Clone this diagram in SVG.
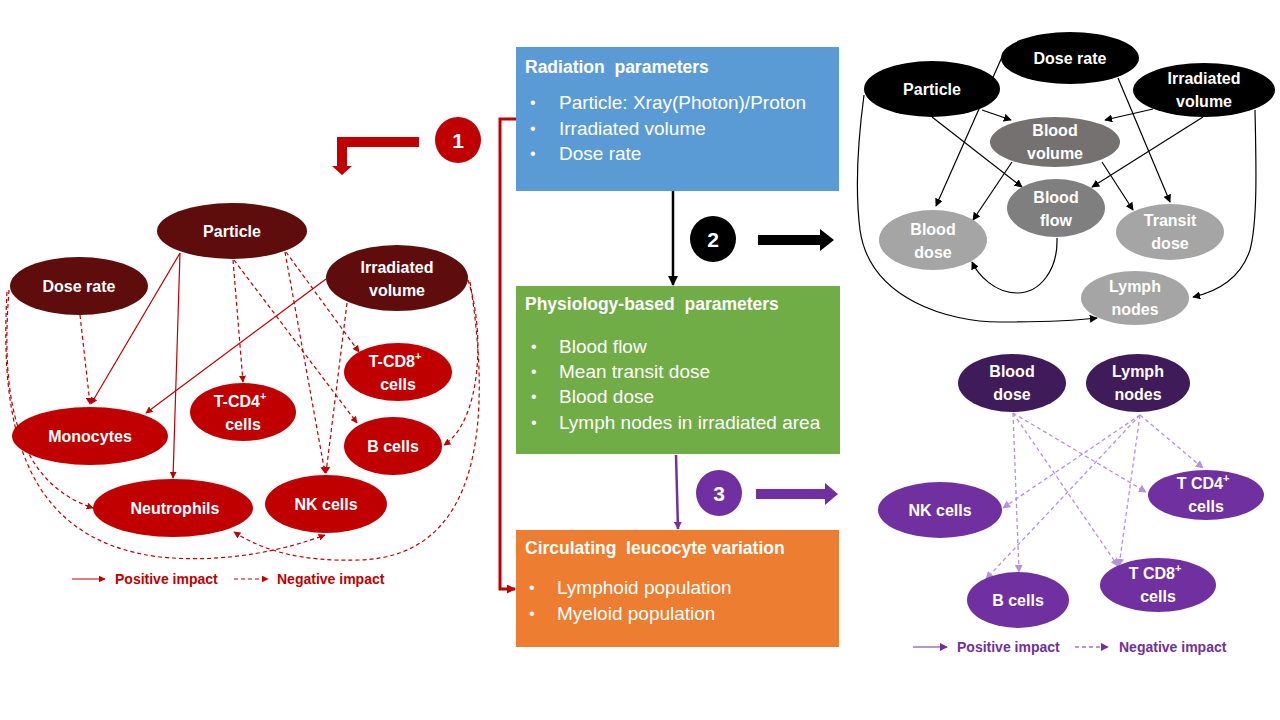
<svg xmlns="http://www.w3.org/2000/svg" width="1280" height="720" viewBox="0 0 1280 720">
<style>
text{font-family:"Liberation Sans",Arial,sans-serif}
.nt{fill:#fff;font-weight:bold;font-size:16px;text-anchor:middle}
.bt{fill:#fff;font-size:19px}
.bu{fill:#fff;font-size:16px}
.tt{fill:#fff;font-weight:bold;font-size:17.5px}
.dk{fill:#5E0C0C}.rd{fill:#C00000}
.bk{fill:#000}.gv{fill:#767171}.gf{fill:#7F7F7F}.gl{fill:#A5A5A5}
.pd{fill:#3F1B59}.pp{fill:#7030A0}
.er{fill:none;stroke:#C00000;stroke-width:1.2}
.ed{fill:none;stroke:#C00000;stroke-width:1.2;stroke-dasharray:4 3}
.eb{fill:none;stroke:#000;stroke-width:1.2}
.ep{fill:none;stroke:#B890DC;stroke-width:1.3;stroke-dasharray:4 3}
.lr{fill:#C00000;font-weight:bold;font-size:14px}
.lp{fill:#7030A0;font-weight:bold;font-size:14px}
.num{fill:#fff;font-weight:bold;font-size:21px;text-anchor:middle}
</style>
<defs>
<marker id="mr" viewBox="0 0 10 10" refX="9" refY="5" markerWidth="7" markerHeight="7" markerUnits="userSpaceOnUse" orient="auto"><path d="M0,0L10,5L0,10z" fill="#C00000"/></marker>
<marker id="mb" viewBox="0 0 10 10" refX="9" refY="5" markerWidth="8" markerHeight="8" markerUnits="userSpaceOnUse" orient="auto"><path d="M0,0L10,5L0,10z" fill="#000"/></marker>
<marker id="mp" viewBox="0 0 10 10" refX="9" refY="5" markerWidth="8" markerHeight="8" markerUnits="userSpaceOnUse" orient="auto"><path d="M0,0L10,5L0,10z" fill="#B890DC"/></marker>
<marker id="mpd" viewBox="0 0 10 10" refX="9" refY="5" markerWidth="8" markerHeight="8" markerUnits="userSpaceOnUse" orient="auto"><path d="M0,0L10,5L0,10z" fill="#7030A0"/></marker>
<marker id="mr2" viewBox="0 0 10 10" refX="9" refY="5" markerWidth="9" markerHeight="9" markerUnits="userSpaceOnUse" orient="auto"><path d="M0,0L10,5L0,10z" fill="#C00000"/></marker>
<marker id="mb2" viewBox="0 0 10 10" refX="9" refY="5" markerWidth="10" markerHeight="10" markerUnits="userSpaceOnUse" orient="auto"><path d="M0,0L10,5L0,10z" fill="#000"/></marker>
</defs>
<rect width="1280" height="720" fill="#fff"/>

<!-- Middle boxes -->
<g id="box-radiation">
<rect x="516" y="47" width="323" height="144" fill="#5B9BD5"/>
<text class="tt" x="525" y="73" xml:space="preserve">Radiation  parameters</text>
<text class="bu" x="530" y="108">•</text><text class="bt" x="559" y="109">Particle: Xray(Photon)/Proton</text>
<text class="bu" x="530" y="134">•</text><text class="bt" x="559" y="135">Irradiated volume</text>
<text class="bu" x="530" y="159">•</text><text class="bt" x="559" y="160">Dose rate</text>
</g>
<g id="box-physiology">
<rect x="516" y="286" width="324" height="168" fill="#70AD47"/>
<text class="tt" x="525" y="310" xml:space="preserve">Physiology-based  parameters</text>
<text class="bu" x="531" y="352">•</text><text class="bt" x="559" y="353">Blood flow</text>
<text class="bu" x="531" y="377">•</text><text class="bt" x="559" y="378">Mean transit dose</text>
<text class="bu" x="531" y="402">•</text><text class="bt" x="559" y="403">Blood dose</text>
<text class="bu" x="531" y="428">•</text><text class="bt" x="559" y="429">Lymph nodes in irradiated area</text>
</g>
<g id="box-leucocyte">
<rect x="516" y="530" width="323" height="117" fill="#ED7D31"/>
<text class="tt" x="525" y="554" xml:space="preserve">Circulating  leucocyte variation</text>
<text class="bu" x="529" y="593">•</text><text class="bt" x="557" y="594">Lymphoid population</text>
<text class="bu" x="529" y="619">•</text><text class="bt" x="557" y="620">Myeloid population</text>
</g>
<g id="step-1">
<circle cx="458" cy="140" r="23" fill="#C00000"/>
<text class="num" x="458" y="148">1</text>
<polygon points="419,137 337,137 337,166 332,166 342,175 352,166 347,166 347,147 419,147" fill="#C00000"/>
</g>
<g id="step-2">
<circle cx="713" cy="239" r="23" fill="#000"/>
<text class="num" x="713" y="247">2</text>
<polygon points="758,235 820,235 820,229 834,240 820,251 820,245 758,245" fill="#000"/>
</g>
<g id="step-3">
<circle cx="719" cy="493" r="23" fill="#7030A0"/>
<text class="num" x="719" y="501">3</text>
<polygon points="756,489 825,489 825,483 838,494 825,505 825,499 756,499" fill="#7030A0"/>
</g>
<g id="middle-connectors">
<line x1="673" y1="191" x2="673" y2="285" stroke="#000" stroke-width="2.5" marker-end="url(#mb2)"/>
<line x1="676" y1="455" x2="678" y2="529" stroke="#7030A0" stroke-width="2.5" marker-end="url(#mpd)"/>
<polyline points="516,119 500,119 500,589 515,589" fill="none" stroke="#C00000" stroke-width="3" marker-end="url(#mr2)"/>
</g>

<!-- Left graph connectors -->
<g id="left-connectors">
<line class="er" x1="180" y1="253" x2="91" y2="404" marker-end="url(#mr)"/>
<line class="er" x1="180" y1="253" x2="173" y2="478" marker-end="url(#mr)"/>
<line class="er" x1="326" y1="279" x2="146" y2="413" marker-end="url(#mr)"/>
<line class="ed" x1="80" y1="315" x2="90" y2="404" marker-end="url(#mr)"/>
<line class="ed" x1="233" y1="260" x2="243" y2="382" marker-end="url(#mr)"/>
<line class="ed" x1="234" y1="260" x2="357" y2="423" marker-end="url(#mr)"/>
<line class="ed" x1="285" y1="252" x2="325" y2="473" marker-end="url(#mr)"/>
<line class="ed" x1="286" y1="252" x2="359" y2="352" marker-end="url(#mr)"/>
<line class="ed" x1="347" y1="303" x2="326" y2="473" marker-end="url(#mr)"/>
<path class="ed" d="M468,280 C485,330 482,420 444,445" marker-end="url(#mr)"/>
<path class="ed" d="M470,282 C492,420 482,556 360,560 C300,562 262,550 234,532" marker-end="url(#mr)"/>
<path class="ed" d="M9,290 C2,380 8,480 93,508" marker-end="url(#mr)"/>
<path class="ed" d="M7,292 C0,420 20,540 160,557 C230,564 290,548 325,535" marker-end="url(#mr)"/>
</g>
<g id="left-particle"><ellipse class="dk" cx="232" cy="231" rx="75" ry="28"/><text class="nt" x="232" y="237">Particle</text></g>
<g id="left-doserate"><ellipse class="dk" cx="79" cy="286" rx="69" ry="29"/><text class="nt" x="79" y="292">Dose rate</text></g>
<g id="left-irradiated"><ellipse class="dk" cx="397" cy="278" rx="71" ry="33"/><text class="nt" x="397" y="273">Irradiated</text><text class="nt" x="397" y="296">volume</text></g>
<g id="left-monocytes"><ellipse class="rd" cx="90" cy="436" rx="78" ry="29"/><text class="nt" x="90" y="442">Monocytes</text></g>
<g id="left-tcd4"><ellipse class="rd" cx="243" cy="412" rx="53" ry="29"/><text class="nt" x="240" y="407">T-CD4<tspan font-size="11" dy="-7">+</tspan></text><text class="nt" x="243" y="430">cells</text></g>
<g id="left-tcd8"><ellipse class="rd" cx="398" cy="372" rx="54" ry="29"/><text class="nt" x="395" y="367">T-CD8<tspan font-size="11" dy="-7">+</tspan></text><text class="nt" x="398" y="390">cells</text></g>
<g id="left-bcells"><ellipse class="rd" cx="393" cy="446" rx="49" ry="29"/><text class="nt" x="393" y="452">B cells</text></g>
<g id="left-neutrophils"><ellipse class="rd" cx="173" cy="508" rx="80" ry="29"/><text class="nt" x="175" y="514">Neutrophils</text></g>
<g id="left-nk"><ellipse class="rd" cx="326" cy="504" rx="61" ry="29"/><text class="nt" x="326" y="510">NK cells</text></g>
<g id="left-legend">
<line class="er" x1="72" y1="579" x2="105" y2="579" marker-end="url(#mr)"/>
<text class="lr" x="115" y="584">Positive impact</text>
<line class="ed" x1="234" y1="579" x2="268" y2="579" marker-end="url(#mr)"/>
<text class="lr" x="277" y="584">Negative impact</text>
</g>

<!-- Top-right graph -->
<g id="tr-connectors">
<line class="eb" x1="1002" y1="57" x2="936" y2="206" marker-end="url(#mb)"/>
<line class="eb" x1="982" y1="110" x2="1011" y2="120" marker-end="url(#mb)"/>
<line class="eb" x1="932" y1="117" x2="1022" y2="187" marker-end="url(#mb)"/>
<line class="eb" x1="1118" y1="78" x2="1170" y2="202" marker-end="url(#mb)"/>
<line class="eb" x1="1153" y1="109" x2="1105" y2="120" marker-end="url(#mb)"/>
<line class="eb" x1="1203" y1="117" x2="1092" y2="187" marker-end="url(#mb)"/>
<line class="eb" x1="1012" y1="162" x2="973" y2="220" marker-end="url(#mb)"/>
<line class="eb" x1="1102" y1="162" x2="1133" y2="210" marker-end="url(#mb)"/>
<path class="eb" d="M1057,238 C1058,270 1040,293 1017,293 C995,293 978,275 972,262" marker-end="url(#mb)"/>
<path class="eb" d="M864,95 C858,140 855,190 860,230 C870,300 950,322 1000,322 C1050,322 1080,320 1097,318" marker-end="url(#mb)"/>
<path class="eb" d="M1255,110 C1256,160 1258,220 1250,250 C1240,280 1215,292 1193,297" marker-end="url(#mb)"/>
</g>
<g id="tr-doserate"><ellipse class="bk" cx="1070" cy="58" rx="69" ry="26"/><text class="nt" x="1070" y="64">Dose rate</text></g>
<g id="tr-particle"><ellipse class="bk" cx="932" cy="89" rx="68" ry="28"/><text class="nt" x="932" y="95">Particle</text></g>
<g id="tr-irradiated"><ellipse class="bk" cx="1204" cy="90" rx="71" ry="27"/><text class="nt" x="1204" y="84">Irradiated</text><text class="nt" x="1204" y="107">volume</text></g>
<g id="tr-bloodvolume"><ellipse class="gv" cx="1055" cy="142" rx="65" ry="25"/><text class="nt" x="1055" y="136">Blood</text><text class="nt" x="1055" y="159">volume</text></g>
<g id="tr-bloodflow"><ellipse class="gf" cx="1056" cy="208" rx="49" ry="29"/><text class="nt" x="1056" y="203">Blood</text><text class="nt" x="1056" y="226">flow</text></g>
<g id="tr-blooddose"><ellipse class="gl" cx="933" cy="240" rx="54" ry="30"/><text class="nt" x="933" y="235">Blood</text><text class="nt" x="933" y="258">dose</text></g>
<g id="tr-transit"><ellipse class="gl" cx="1170" cy="232" rx="54" ry="28"/><text class="nt" x="1170" y="226">Transit</text><text class="nt" x="1170" y="249">dose</text></g>
<g id="tr-lymph"><ellipse class="gl" cx="1135" cy="298" rx="54" ry="27"/><text class="nt" x="1135" y="292">Lymph</text><text class="nt" x="1135" y="315">nodes</text></g>

<!-- Bottom-right graph -->
<g id="br-connectors">
<line class="ep" x1="1013" y1="413" x2="1019" y2="572" marker-end="url(#mp)"/>
<line class="ep" x1="1013" y1="413" x2="1118" y2="566" marker-end="url(#mp)"/>
<line class="ep" x1="1013" y1="413" x2="1146" y2="492" marker-end="url(#mp)"/>
<line class="ep" x1="1140" y1="415" x2="1003" y2="508" marker-end="url(#mp)"/>
<line class="ep" x1="1140" y1="415" x2="986" y2="579" marker-end="url(#mp)"/>
<line class="ep" x1="1140" y1="415" x2="1119" y2="566" marker-end="url(#mp)"/>
<line class="ep" x1="1140" y1="415" x2="1203" y2="468" marker-end="url(#mp)"/>
</g>
<g id="br-blooddose"><ellipse class="pd" cx="1012" cy="383" rx="54" ry="29"/><text class="nt" x="1012" y="377">Blood</text><text class="nt" x="1012" y="400">dose</text></g>
<g id="br-lymph"><ellipse class="pd" cx="1138" cy="383" rx="52" ry="29"/><text class="nt" x="1138" y="377">Lymph</text><text class="nt" x="1138" y="400">nodes</text></g>
<g id="br-nk"><ellipse class="pp" cx="940" cy="510" rx="62" ry="28"/><text class="nt" x="940" y="516">NK cells</text></g>
<g id="br-tcd4"><ellipse class="pp" cx="1206" cy="495" rx="58" ry="25"/><text class="nt" x="1203" y="489">T CD4<tspan font-size="11" dy="-7">+</tspan></text><text class="nt" x="1206" y="512">cells</text></g>
<g id="br-bcells"><ellipse class="pp" cx="1018" cy="600" rx="51" ry="28"/><text class="nt" x="1018" y="606">B cells</text></g>
<g id="br-tcd8"><ellipse class="pp" cx="1158" cy="585" rx="58" ry="27"/><text class="nt" x="1155" y="579">T CD8<tspan font-size="11" dy="-7">+</tspan></text><text class="nt" x="1158" y="602">cells</text></g>
<g id="br-legend">
<line x1="913" y1="647" x2="947" y2="647" stroke="#7030A0" stroke-width="1.2" marker-end="url(#mpd)"/>
<text class="lp" x="957" y="652">Positive impact</text>
<line x1="1075" y1="647" x2="1108" y2="647" stroke="#7030A0" stroke-width="1.2" stroke-dasharray="4 3" marker-end="url(#mpd)"/>
<text class="lp" x="1119" y="652">Negative impact</text>
</g>
</svg>
